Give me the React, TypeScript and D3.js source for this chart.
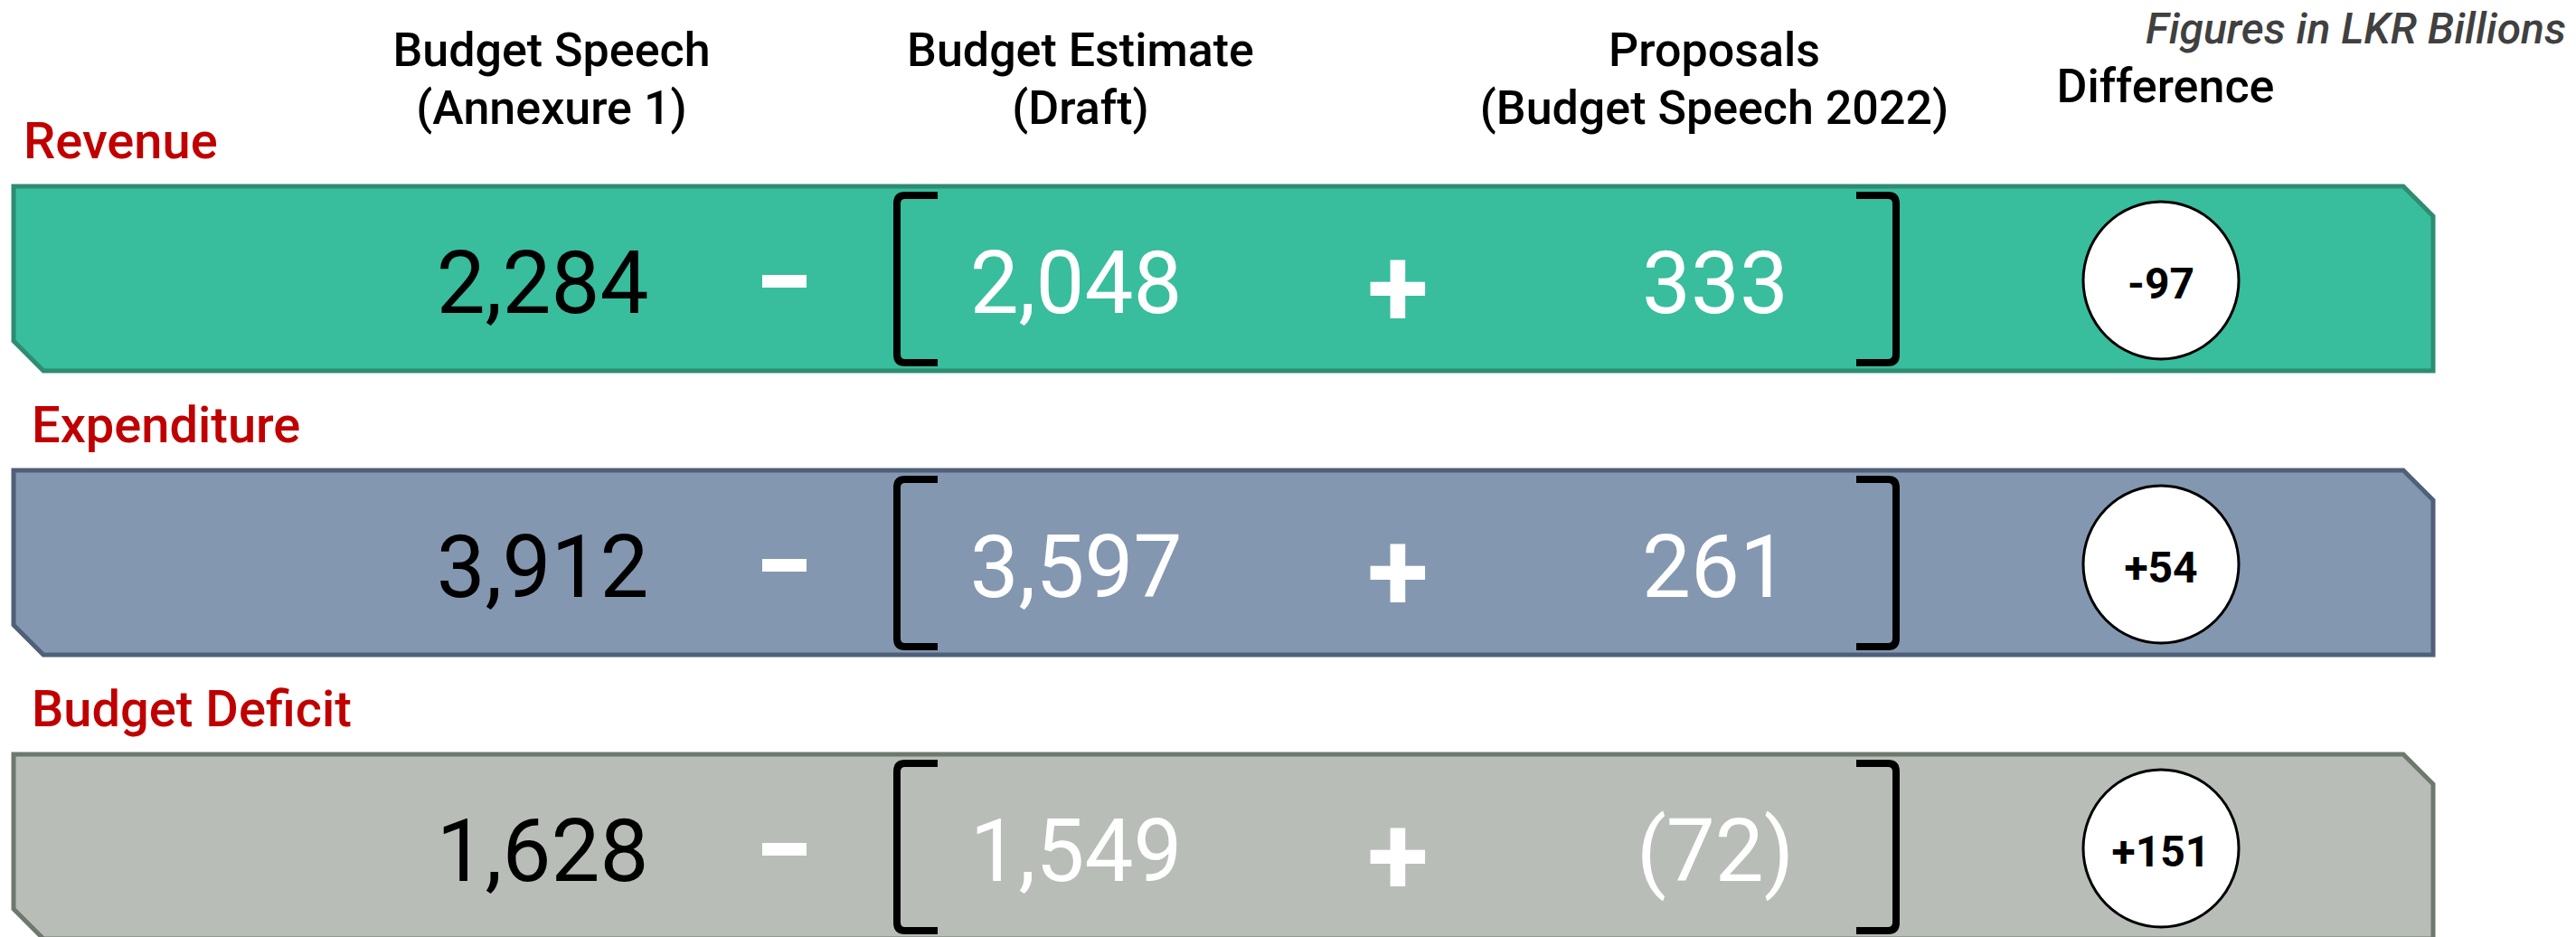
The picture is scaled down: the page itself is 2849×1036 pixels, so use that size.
import React from "react";
import * as d3 from "d3";

// ---- data ----
const categories = ["Revenue", "Expenditure", "Budget Deficit"];
const budgetSpeech = [2284, 3912, 1628];
const budgetEstimate = [2048, 3597, 1549];
const proposals = [333, 261, -72];
const difference = [-97, 54, 151];

const columnHeaders: string[][] = [
  ["Budget Speech", "(Annexure 1)"],
  ["Budget Estimate", "(Draft)"],
  ["Proposals", "(Budget Speech 2022)"],
];
const differenceHeader = "Difference";
const unitNote = "Figures in LKR Billions";

const fillColors = ["#38BD9D", "#8497B0", "#B8BDB7"];
const strokeColors = ["#2E8C73", "#4F6079", "#6E796E"];

// ---- layout ----
const W = 2849;
const H = 1036;
const FONT = "Roboto, 'Noto Sans', sans-serif";
const BAND_H = 204;
const CH = 33; // chamfer
const BAND_L = 15;
const BAND_R = 2691;

const yTop = d3.scalePoint<string>().domain(categories).range([206, 834]);
const colX = d3
  .scaleOrdinal<string, number>()
  .domain(["speech", "estimate", "proposal", "diff"])
  .range([600, 1190, 1897, 2390]);
const headerX = [610, 1195, 1896];

const fmt = d3.format(",");
const fmtProposal = (v: number) => (v < 0 ? `(${fmt(-v)})` : fmt(v));
const fmtDiff = (v: number) => (v > 0 ? `+${v}` : `-${Math.abs(v)}`);

function bandPath(top: number) {
  const bottom = top + BAND_H;
  const p = d3.path();
  p.moveTo(BAND_L, top);
  p.lineTo(BAND_R - CH, top);
  p.lineTo(BAND_R, top + CH);
  p.lineTo(BAND_R, bottom);
  p.lineTo(BAND_L + CH, bottom);
  p.lineTo(BAND_L, bottom - CH);
  p.closePath();
  return p.toString();
}

function bracketPath(x: number, armEnd: number, top: number, bottom: number) {
  const r = 9;
  const dir = armEnd > x ? 1 : -1;
  const p = d3.path();
  p.moveTo(armEnd, top);
  p.lineTo(x + dir * r, top);
  p.quadraticCurveTo(x, top, x, top + r);
  p.lineTo(x, bottom - r);
  p.quadraticCurveTo(x, bottom, x + dir * r, bottom);
  p.lineTo(armEnd, bottom);
  return p.toString();
}

export default function App() {
  return (
    <svg
      width={W}
      height={H}
      style={{ position: "absolute", left: 0, top: 0, background: "#fff" }}
      fontFamily={FONT}
    >
      {/* unit note */}
      <text
        x={2838}
        y={48}
        textAnchor="end"
        fontSize={48}
        fontStyle="italic"
        fontWeight={500}
        fill="#404040"
      >
        {unitNote}
      </text>

      {/* column headers */}
      {columnHeaders.map((lines, i) => (
        <text
          key={i}
          textAnchor="middle"
          fontSize={52}
          fontWeight={500}
          fill="#000"
        >
          {lines.map((l, j) => (
            <tspan key={j} x={headerX[i]} y={73 + j * 64}>
              {l}
            </tspan>
          ))}
        </text>
      ))}
      <text
        x={2395}
        y={113}
        textAnchor="middle"
        fontSize={52}
        fontWeight={500}
        fill="#000"
      >
        {differenceHeader}
      </text>

      {categories.map((cat, i) => {
        const top = yTop(cat) as number;
        const bottom = top + BAND_H;
        const baseline = top + 140;
        const mid = top + 105;
        return (
          <g key={cat}>
            <text
              x={i === 0 ? 26 : 35}
              y={top - 31}
              fontSize={56}
              fontWeight={500}
              fill="#C00000"
            >
              {cat}
            </text>
            <path
              d={bandPath(top)}
              fill={fillColors[i]}
              stroke={strokeColors[i]}
              strokeWidth={5}
              strokeLinejoin="miter"
            />
            {/* budget speech value */}
            <text
              x={colX("speech")}
              y={baseline}
              textAnchor="middle"
              fontSize={96}
              fill="#000"
            >
              {fmt(budgetSpeech[i])}
            </text>
            {/* minus operator */}
            <rect x={843} y={mid - 7} width={49} height={14} fill="#fff" />
            {/* brackets */}
            <path
              d={bracketPath(992, 1037, top + 10, bottom - 9)}
              fill="none"
              stroke="#000"
              strokeWidth={8}
            />
            <path
              d={bracketPath(2097, 2053, top + 10, bottom - 9)}
              fill="none"
              stroke="#000"
              strokeWidth={8}
            />
            {/* draft estimate */}
            <text
              x={colX("estimate")}
              y={baseline}
              textAnchor="middle"
              fontSize={96}
              fill="#fff"
            >
              {fmt(budgetEstimate[i])}
            </text>
            {/* plus operator */}
            <text
              x={1546}
              y={mid + 50}
              textAnchor="middle"
              fontSize={124}
              fontWeight={700}
              fill="#fff"
            >
              +
            </text>
            {/* proposals */}
            <text
              x={colX("proposal")}
              y={baseline}
              textAnchor="middle"
              fontSize={96}
              fill="#fff"
            >
              {fmtProposal(proposals[i])}
            </text>
            {/* difference circle */}
            <ellipse
              cx={colX("diff")}
              cy={top + 104}
              rx={86}
              ry={87}
              fill="#fff"
              stroke="#000"
              strokeWidth={3}
            />
            <text
              x={colX("diff")}
              y={top + 124}
              textAnchor="middle"
              fontSize={48}
              fontWeight={700}
              fill="#000"
            >
              {fmtDiff(difference[i])}
            </text>
          </g>
        );
      })}
    </svg>
  );
}
